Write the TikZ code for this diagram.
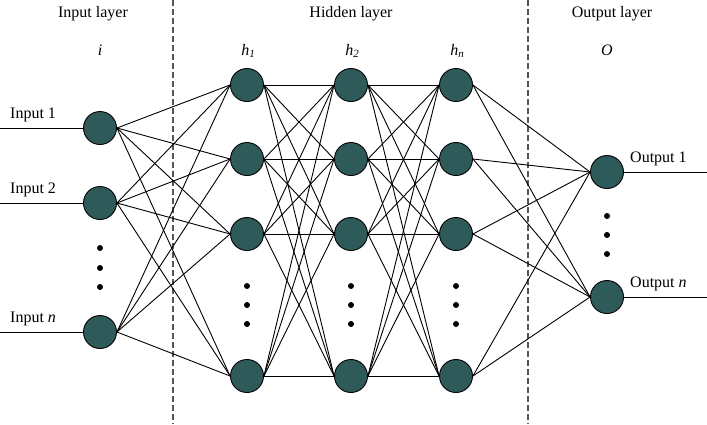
\documentclass[tikz,border=0pt]{standalone}
\usepackage{fontspec}
\setmainfont{Liberation Serif}
\definecolor{nfill}{HTML}{2E5A5A}
\definecolor{sepgray}{HTML}{555555}
\newcommand\hlab[1]{\textit{h}\raisebox{-0.35ex}{\fontsize{11}{11}\selectfont\textit{#1}}}
\begin{document}
\begin{tikzpicture}[x=1pt,y=-1pt,
  neuron/.style={circle,draw=black,line width=0.9pt,fill=nfill,minimum size=33pt,inner sep=0pt},
  conn/.style={line width=0.9pt,draw=black},
  sepline/.style={draw=sepgray,line width=1.1pt,dash pattern=on 6pt off 3pt},
  lbl/.style={font=\fontsize{16}{18}\selectfont,anchor=base,inner sep=0pt},
  sidelbl/.style={font=\fontsize{16}{18}\selectfont,anchor=base west,inner sep=0pt},
  dotm/.style={circle,fill=black,inner sep=0pt,minimum size=6pt}]
\useasboundingbox (0,0) rectangle (707,424);

% separators
\coordinate (d1t) at (173,0); \coordinate (d1b) at (173,424);
\coordinate (d2t) at (528,0); \coordinate (d2b) at (528,424);
\draw[sepline] (d1t) -- (d1b);
\draw[sepline] (d2t) -- (d2b);

% neurons
\node[neuron] (i1) at (100,128) {};
\node[neuron] (i2) at (100,203) {};
\node[neuron] (i3) at (100,332) {};
\foreach \n/\x in {a/247,b/351,c/456}{
  \node[neuron] (\n1) at (\x,85) {};
  \node[neuron] (\n2) at (\x,159) {};
  \node[neuron] (\n3) at (\x,234) {};
  \node[neuron] (\n4) at (\x,376) {};
}
\node[neuron] (o1) at (607,172) {};
\node[neuron] (o2) at (607,297) {};

% connections
\foreach \s in {i1,i2,i3}{\foreach \t in {a1,a2,a3,a4}{\draw[conn] (\s.east) -- (\t.west);}}
\foreach \s in {a1,a2,a3,a4}{\foreach \t in {b1,b2,b3,b4}{\draw[conn] (\s.east) -- (\t.west);}}
\foreach \s in {b1,b2,b3,b4}{\foreach \t in {c1,c2,c3,c4}{\draw[conn] (\s.east) -- (\t.west);}}
\foreach \s in {c1,c2,c3,c4}{\foreach \t in {o1,o2}{\draw[conn] (\s.east) -- (\t.west);}}

% input / output lines
\coordinate (in1) at (0,128); \coordinate (in2) at (0,203); \coordinate (in3) at (0,332);
\coordinate (out1) at (707,172); \coordinate (out2) at (707,297);
\draw[conn] (in1) -- (i1.west);
\draw[conn] (in2) -- (i2.west);
\draw[conn] (in3) -- (i3.west);
\draw[conn] (o1.east) -- (out1);
\draw[conn] (o2.east) -- (out2);

% dots
\foreach \y [count=\k] in {248,268,287}{\node[dotm] (di\k) at (100,\y) {};}
\foreach \n/\x in {a/247,b/351,c/456}{
  \foreach \y [count=\k] in {286,305,324}{\node[dotm] (d\n\k) at (\x,\y) {};}
}
\foreach \y [count=\k] in {216,235,254}{\node[dotm] (do\k) at (607,\y) {};}

% titles
\node[lbl] (tin) at (93,17) {Input layer};
\node[lbl] (thid) at (351,17) {Hidden layer};
\node[lbl] (tout) at (612,17) {Output layer};
\node[lbl] (li) at (100,55) {\textit{i}};
\node[lbl] (lh1) at (248,55) {\hlab{1}};
\node[lbl] (lh2) at (352,55) {\hlab{2}};
\node[lbl] (lhn) at (457,55) {\hlab{n}};
\node[lbl] (lo) at (607,55) {\textit{O}};

% side labels
\node[sidelbl] (lin1) at (10,118) {Input 1};
\node[sidelbl] (lin2) at (10,193) {Input 2};
\node[sidelbl] (lin3) at (10,322) {Input \textit{n}};
\node[sidelbl] (lout1) at (630,162) {Output 1};
\node[sidelbl] (lout2) at (630,287) {Output \textit{n}};
\end{tikzpicture}
\end{document}
